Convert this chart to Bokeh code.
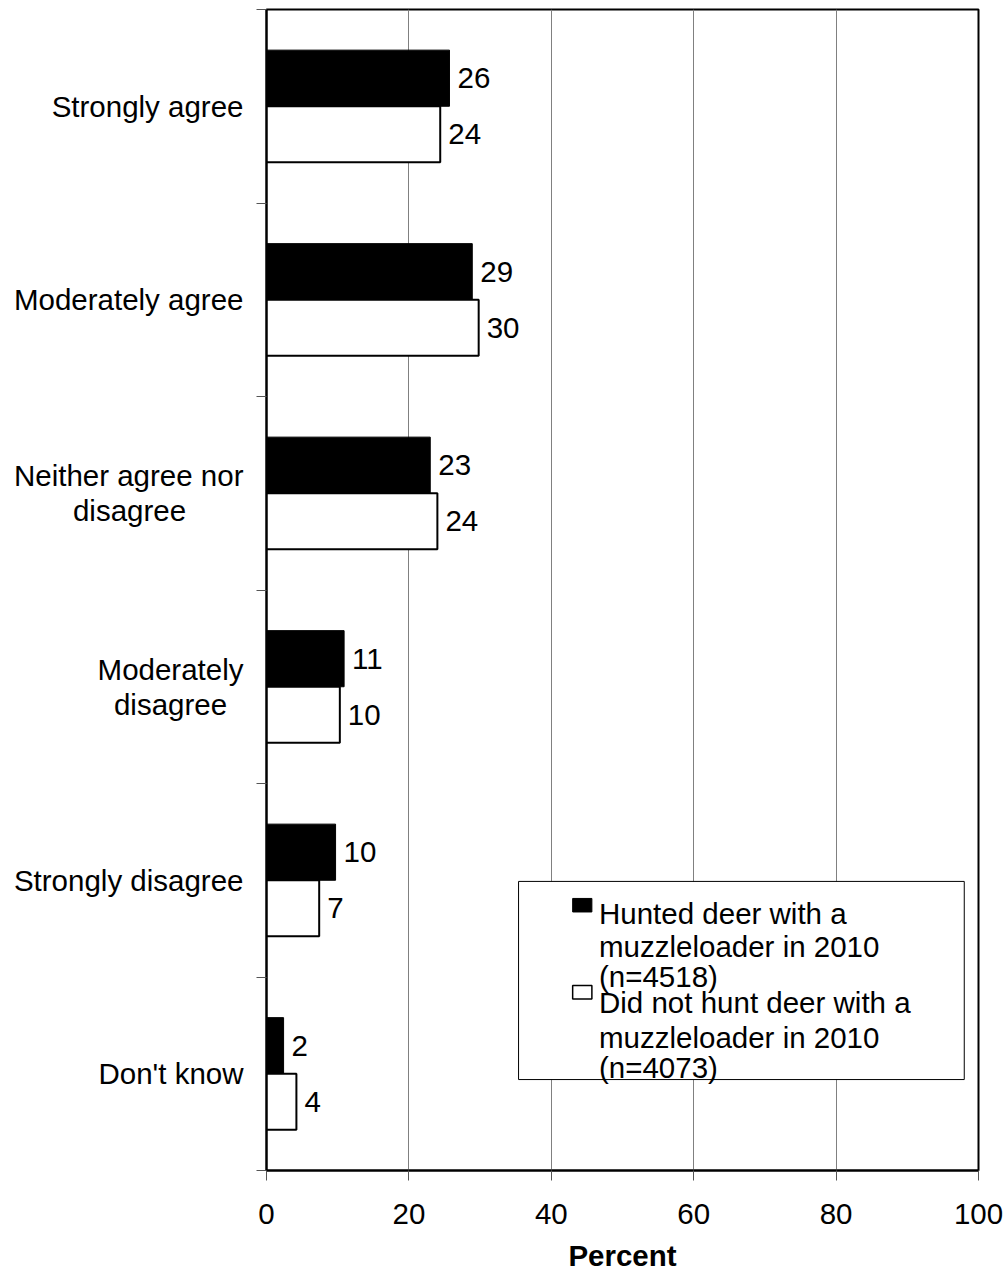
from bokeh.plotting import figure
from bokeh.models import (ColumnDataSource, Range1d, FixedTicker, LabelSet,
                          BoxAnnotation, Label)
from bokeh.core.properties import value
from bokeh.embed import file_html
from bokeh.resources import INLINE

# ---------------- data ----------------
categories = ["Strongly agree", "Moderately agree", "Neither agree nor\ndisagree",
              "Moderately\ndisagree", "Strongly disagree", "Don't know"]
hunted = [25.7, 28.9, 23.0, 10.9, 9.7, 2.4]        # Hunted deer with a muzzleloader in 2010
not_hunted = [24.4, 29.8, 24.0, 10.3, 7.4, 4.2]    # Did not hunt deer with a muzzleloader in 2010
x_ticks = [0, 20, 40, 60, 80, 100]
x_title = "Percent"
legend_lines_1 = ["Hunted deer with a", "muzzleloader in 2010", "(n=4518)"]
legend_lines_2 = ["Did not hunt deer with a", "muzzleloader in 2010", "(n=4073)"]

FONT = "Liberation Sans"
FS = "29.5px"
NBSP = "\u00a0"

n = len(categories)
centers = [i + 0.5 for i in range(n)]
bounds = [i for i in range(n + 1)]
OFF = 0.145
BAR_H = 0.29

p = figure(width=1008, height=1277, x_range=Range1d(0, 100), y_range=Range1d(n, 0),
           output_backend="svg", toolbar_location=None,
           min_border_left=266, min_border_right=30, min_border_top=9,
           min_border_bottom=107, background_fill_color="white",
           border_fill_color="white")

src_h = ColumnDataSource(dict(y=[c - OFF for c in centers], v=hunted,
                              t=["%.0f" % v for v in hunted]))
src_n = ColumnDataSource(dict(y=[c + OFF for c in centers], v=not_hunted,
                              t=["%.0f" % v for v in not_hunted]))

p.hbar(y="y", left=0, right="v", height=BAR_H, source=src_h,
       fill_color="black", line_color="black", line_width=1)
p.hbar(y="y", left=0, right="v", height=BAR_H, source=src_n,
       fill_color="white", line_color="black", line_width=2)

for src in (src_h, src_n):
    p.add_layout(LabelSet(x="v", y="y", text="t", source=src, x_offset=8,
                          text_baseline="middle", text_align="left",
                          text_font=value(FONT), text_font_size=value(FS),
                          text_color="black"))

# ---------------- axes ----------------
xa = p.xaxis[0]
xa.ticker = FixedTicker(ticks=x_ticks)
xa.major_tick_out = 10
xa.major_tick_in = 0
xa.minor_tick_out = 0
xa.minor_tick_in = 0
xa.axis_line_color = "black"
xa.axis_line_width = 2
xa.major_tick_line_color = "#555555"
xa.major_label_text_font = FONT
xa.major_label_text_font_size = FS
xa.major_label_text_color = "black"
xa.major_label_standoff = 23
xa.axis_label = x_title
xa.axis_label_text_font = FONT
xa.axis_label_text_font_size = FS
xa.axis_label_text_font_style = "bold"
xa.axis_label_text_color = "black"
xa.axis_label_standoff = 12

# pad the shorter line of two-line labels so the lines look centred
# when the axis right-aligns them
pad_counts = {"Neither agree nor\ndisagree": [0, 7], "Moderately\ndisagree": [0, 2]}
labels_shown = []
for c in categories:
    if c in pad_counts:
        lines = c.split("\n")
        labels_shown.append("\n".join(ln + NBSP * k for ln, k in zip(lines, pad_counts[c])))
    else:
        labels_shown.append(c)

ya = p.yaxis[0]
ya.ticker = FixedTicker(ticks=centers, minor_ticks=bounds)
ya.major_label_overrides = {c: lab for c, lab in zip(centers, labels_shown)}
ya.major_tick_out = 0
ya.major_tick_in = 0
ya.minor_tick_out = 10
ya.minor_tick_in = 0
ya.minor_tick_line_color = "#555555"
ya.axis_line_color = "black"
ya.axis_line_width = 2
ya.major_label_text_font = FONT
ya.major_label_text_font_size = FS
ya.major_label_text_color = "black"
ya.major_label_text_line_height = 1.06
ya.major_label_standoff = 13

p.xgrid.ticker = FixedTicker(ticks=x_ticks)
p.xgrid.grid_line_color = "#808080"
p.xgrid.grid_line_width = 1
p.ygrid.visible = False
p.outline_line_color = "black"
p.outline_line_width = 2

# ---------------- legend (drawn by hand) ----------------
p.add_layout(BoxAnnotation(left=35.4, right=98.0, top=4.506, bottom=5.53,
                           fill_color="white", fill_alpha=1.0,
                           line_color="black", line_alpha=1.0, line_width=1))
p.add_layout(BoxAnnotation(left=43.0, right=45.7, top=4.594, bottom=4.664,
                           fill_color="black", fill_alpha=1.0,
                           line_color="black", line_alpha=1.0, line_width=1))
p.add_layout(BoxAnnotation(left=43.0, right=45.7, top=5.044, bottom=5.114,
                           fill_color="white", fill_alpha=1.0,
                           line_color="black", line_alpha=1.0, line_width=1.5))
ys_1 = [4.672, 4.842, 4.997]
ys_2 = [5.132, 5.313, 5.468]
for lines, ys in ((legend_lines_1, ys_1), (legend_lines_2, ys_2)):
    for txt, yy in zip(lines, ys):
        p.add_layout(Label(x=46.7, y=yy, text=txt, text_font=FONT,
                           text_font_size=FS, text_baseline="alphabetic",
                           text_align="left", text_color="black"))

open("out.html", "w").write(file_html(p, INLINE))
